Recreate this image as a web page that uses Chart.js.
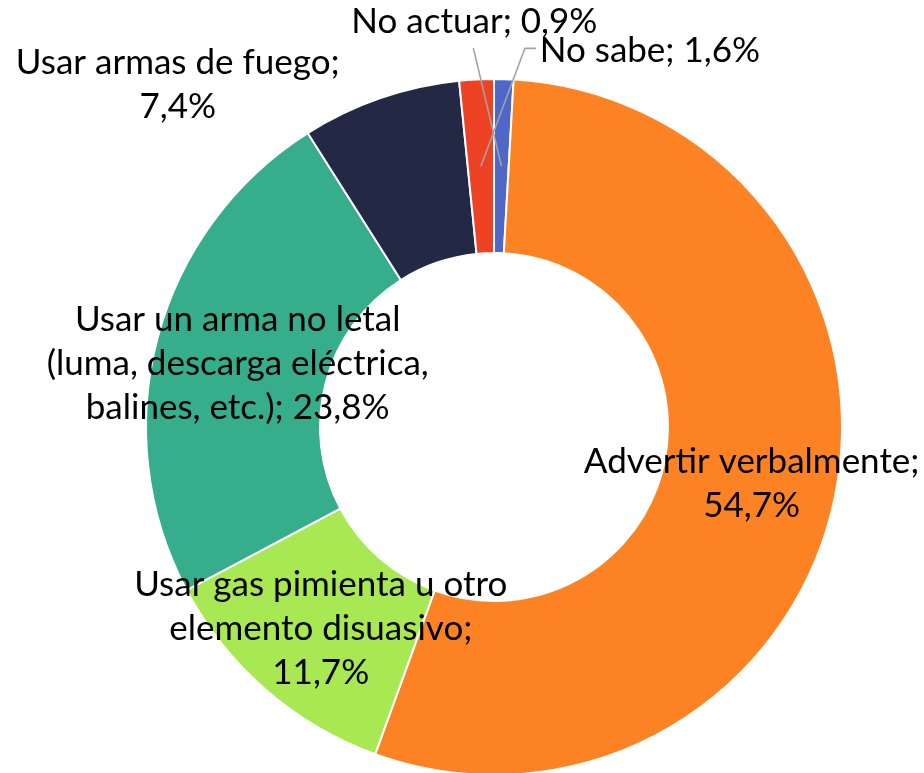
<!DOCTYPE html>
<html>
<head>
<meta charset="utf-8">
<script src="https://cdn.jsdelivr.net/npm/chart.js@4.4.1/dist/chart.umd.min.js"></script>
<style>
    html, body { margin: 0; padding: 0; background: #fff; overflow: hidden; }
    #wrap { width: 924px; height: 780px; position: relative; }
</style>
</head>
<body>
<div id="wrap"><canvas id="myChart"></canvas></div>
<script>
// data i samme rækkefølge som Excel tegner dem (med uret fra kl. 12)
const categories = [
    "No actuar",
    "Advertir verbalmente",
    "Usar gas pimienta u otro elemento disuasivo",
    "Usar un arma no letal (luma, descarga eléctrica, balines, etc.)",
    "Usar armas de fuego",
    "No sabe"
];
const values = [0.9, 54.7, 11.7, 23.8, 7.4, 1.6];
// tekst til labels, {v} erstattes med procenten
const labelLines = [
    ["No actuar; {v}"],
    ["Advertir verbalmente;", "{v}"],
    ["Usar gas pimienta u otro", "elemento disuasivo;", "{v}"],
    ["Usar un arma no letal", "(luma, descarga eléctrica,", "balines, etc.); {v}"],
    ["Usar armas de fuego;", "{v}"],
    ["No sabe; {v}"]
];
const colors = ["#4F68C8", "#FD8224", "#A8E853", "#36AE8C", "#232845", "#EE4224"];

// placering af labels i forhold til midten af hver skive (flyttet manuelt i Excel)
const labelLayout = [
    { dx: -27, dy: -144, leader: [[-1, 26]] },
    { dx: 2, dy: 4 },
    { dx: -2, dy: 5 },
    { dx: -4, dy: 4 },
    { dx: -231, dy: -96 },
    { dx: 169, dy: -116, leader: [[-114, -2], [-125, -2]] }
];

function pct(v) {
    return v.toFixed(1).replace(".", ",") + "%";
}

const sliceLabels = {
    id: "sliceLabels",
    afterDatasetsDraw(chart) {
        const ctx = chart.ctx;
        const arcs = chart.getDatasetMeta(0).data;
        ctx.save();
        ctx.font = "35px Lato";
        ctx.textAlign = "center";
        ctx.textBaseline = "middle";
        arcs.forEach((arc, i) => {
            const p = arc.getCenterPoint();
            const lay = labelLayout[i];
            const cx = p.x + lay.dx;
            const cy = p.y + lay.dy;
            if (lay.leader) {
                ctx.strokeStyle = "#A3A3A3";
                ctx.lineWidth = 1.6;
                ctx.beginPath();
                lay.leader.forEach((pt, k) => {
                    if (k === 0) ctx.moveTo(cx + pt[0], cy + pt[1]);
                    else ctx.lineTo(cx + pt[0], cy + pt[1]);
                });
                ctx.lineTo(p.x, p.y);
                ctx.stroke();
            }
            const lines = labelLines[i].map(t => t.replace("{v}", pct(values[i])));
            const n = lines.length;
            ctx.fillStyle = "#000";
            lines.forEach((t, k) => {
                const y = cy + (k - (n - 1) / 2) * 44;
                ctx.fillText(t, cx, y);
            });
        });
        ctx.restore();
    }
};

const chart = new Chart(document.getElementById("myChart").getContext("2d"), {
    type: "doughnut",
    data: {
        labels: categories,
        datasets: [
            {
                data: values,
                backgroundColor: colors,
                borderColor: "#FFFFFF",
                borderWidth: 2
            }
        ]
    },
    options: {
        responsive: true,
        maintainAspectRatio: false,
        animation: false,
        cutout: "50%",
        layout: { padding: { left: 145, right: 81, top: 78, bottom: 4 } },
        plugins: {
            legend: { display: false },
            tooltip: { enabled: false }
        }
    },
    plugins: [sliceLabels]
});
</script>
</body>
</html>
